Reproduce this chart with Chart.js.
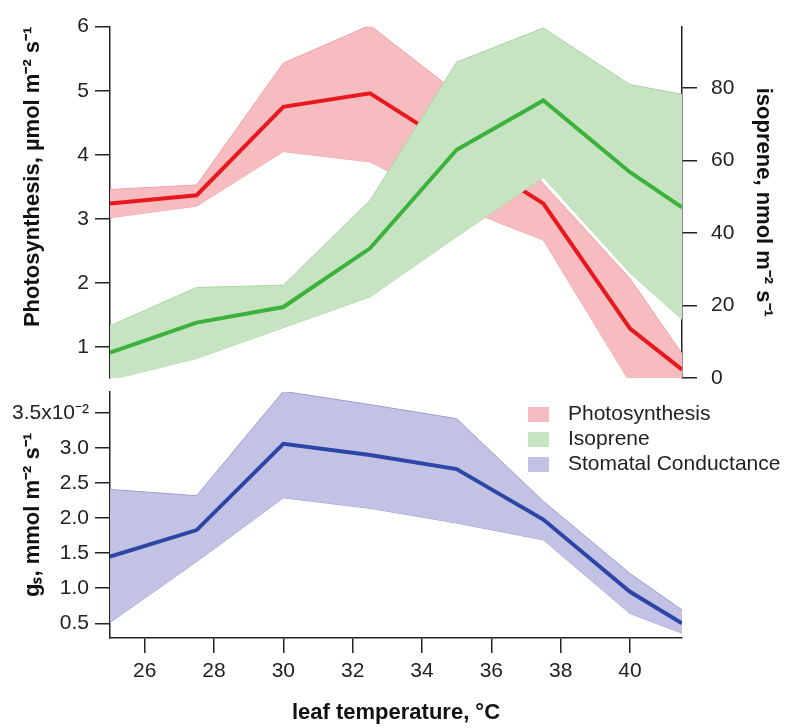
<!DOCTYPE html>
<html>
<head>
<meta charset="utf-8">
<script src="https://cdn.jsdelivr.net/npm/chart.js@4.4.1/dist/chart.umd.min.js"></script>
<style>
  body { margin: 0; background: #fff; }
  #wrap { position: relative; width: 800px; height: 728px; }
  canvas { position: absolute; left: 0; top: 0; }
</style>
</head>
<body>
<div id="wrap">
  <canvas id="top-chart" width="800" height="728"></canvas>
  <canvas id="bottom-chart" width="800" height="728"></canvas>
</div>
<script>
  var temps = [25, 27.5, 30, 32.5, 35, 37.5, 40, 41.5];

  // photosynthesis, umol m-2 s-1
  var photoMean = [3.24, 3.37, 4.75, 4.96, 4.1, 3.24, 1.29, 0.65];
  var photoHigh = [3.46, 3.53, 5.43, 6.02, 4.97, 3.55, 2.07, 0.9];
  var photoLow = [3.02, 3.2, 4.05, 3.89, 3.2, 2.67, 0.45, 0.45];

  // isoprene, nmol m-2 s-1
  var isoMean = [7.0, 15.3, 19.6, 35.8, 63.0, 76.6, 56.8, 47.1];
  var isoHigh = [14.4, 25.0, 25.6, 49, 87.2, 96.6, 81.0, 78.3];
  var isoLow = [-0.5, 5.4, 13.9, 22.4, 39, 55.4, 29, 16.2];

  // stomatal conductance, mmol m-2 s-1
  var gsMean = [0.0145, 0.0183, 0.0306, 0.029, 0.027, 0.0198, 0.0095, 0.005];
  var gsHigh = [0.0241, 0.0232, 0.0381, 0.0362, 0.0342, 0.0224, 0.0121, 0.0069];
  var gsLow = [0.0051, 0.0138, 0.0229, 0.0214, 0.0193, 0.0169, 0.0064, 0.0036];

  var legendNames = ['Photosynthesis', 'Isoprene', 'Stomatal Conductance'];
  var legendColors = ['#f6bcc0', '#c6e4c1', '#c2c2e4'];

  function pts(vals) {
    return temps.map(function (t, i) { return { x: t, y: vals[i] }; });
  }

  Chart.defaults.font.family = '"Liberation Sans", Arial, sans-serif';
  Chart.defaults.font.size = 21;
  Chart.defaults.color = '#222';
  Chart.defaults.animation = false;

  var axisGrid = { drawOnChartArea: false, drawTicks: true, tickLength: 15, color: '#222', lineWidth: 1.5 };
  var axisBorder = { display: true, color: '#222', width: 1.5 };
  var titleFont = { size: 22, weight: 'bold' };

  function band(vals, color, edge, axis, fillTo, order) {
    return {
      data: pts(vals), yAxisID: axis, borderColor: edge, borderWidth: 1,
      backgroundColor: color, pointRadius: 0, fill: fillTo, order: order
    };
  }
  function meanLine(vals, color, axis, order) {
    return {
      data: pts(vals), yAxisID: axis, borderColor: color, borderWidth: 4,
      pointRadius: 0, fill: false, order: order
    };
  }

  var topChart = new Chart(document.getElementById('top-chart').getContext('2d'), {
    type: 'line',
    data: {
      datasets: [
        meanLine(isoMean, '#3cb13c', 'yIso', 0),
        band(isoHigh, '#c6e4c1', '#a9d5a2', 'yIso', 2, 1),
        band(isoLow, '#c6e4c1', '#a9d5a2', 'yIso', false, 1),
        meanLine(photoMean, '#e8191e', 'yPh', 2),
        band(photoHigh, '#f6bcc0', '#f0a2a7', 'yPh', 5, 3),
        band(photoLow, '#f6bcc0', '#f0a2a7', 'yPh', false, 3)
      ]
    },
    options: {
      responsive: false,
      layout: { padding: { top: 26, bottom: 350, left: 0, right: 0 } },
      plugins: { legend: { display: false }, tooltip: { enabled: false } },
      scales: {
        x: { type: 'linear', min: 25, max: 41.5, display: false },
        yPh: {
          position: 'left', min: 0.52, max: 6,
          ticks: { stepSize: 1, includeBounds: false, padding: 6 },
          grid: axisGrid, border: axisBorder,
          title: { display: true, text: 'Photosynthesis, µmol m⁻² s⁻¹', font: titleFont, color: '#111', align: 'end', padding: { top: 20, bottom: 0 } },
          afterFit: function (s) { s.width = 110; }
        },
        yIso: {
          position: 'right', min: 0, max: 97,
          ticks: { stepSize: 20, includeBounds: false, padding: 14 },
          grid: axisGrid, border: axisBorder,
          title: { display: true, text: 'isoprene, nmol m⁻² s⁻¹', font: titleFont, color: '#111', padding: { top: 24, bottom: 0 } },
          afterFit: function (s) { s.width = 118; }
        }
      }
    }
  });

  var legendPlugin = {
    id: 'bandLegend',
    afterDraw: function (chart) {
      var ctx = chart.ctx;
      var x = chart.chartArea.right - 154;
      var y = chart.chartArea.top + 15;
      ctx.save();
      ctx.font = '21px "Liberation Sans", Arial, sans-serif';
      ctx.textBaseline = 'middle';
      for (var i = 0; i < legendNames.length; i++) {
        ctx.fillStyle = legendColors[i];
        ctx.fillRect(x, y + i * 25, 21, 15);
        ctx.fillStyle = '#222';
        ctx.fillText(legendNames[i], x + 40, y + i * 25 + 7);
      }
      ctx.restore();
    }
  };

  var bottomChart = new Chart(document.getElementById('bottom-chart').getContext('2d'), {
    type: 'line',
    data: {
      datasets: [
        meanLine(gsMean, '#2d46a6', 'yGs', 0),
        band(gsHigh, '#c2c2e4', '#9d9dd3', 'yGs', 2, 1),
        band(gsLow, '#c2c2e4', '#9d9dd3', 'yGs', false, 1)
      ]
    },
    options: {
      responsive: false,
      layout: { padding: { top: 392, bottom: 0, left: 0, right: 118 } },
      plugins: { legend: { display: false }, tooltip: { enabled: false } },
      scales: {
        x: {
          type: 'linear', min: 25, max: 41.5,
          ticks: { stepSize: 2, includeBounds: false, padding: 6 },
          grid: axisGrid, border: axisBorder,
          title: { display: true, text: 'leaf temperature, °C', font: titleFont, color: '#111', padding: { top: 0, bottom: 2 } },
          afterFit: function (s) { s.height = 90; }
        },
        yGs: {
          position: 'left', min: 0.0029, max: 0.038,
          ticks: {
            stepSize: 0.005, includeBounds: false, padding: 6,
            callback: function (v) {
              var s = (v * 100).toFixed(1);
              return Math.abs(v - 0.035) < 1e-6 ? s + 'x10⁻²' : s;
            }
          },
          grid: axisGrid, border: axisBorder,
          title: { display: true, text: 'gₛ, mmol m⁻² s⁻¹', font: titleFont, color: '#111', padding: { top: 20, bottom: 0 } },
          afterFit: function (s) { s.width = 110; }
        }
      }
    },
    plugins: [legendPlugin]
  });
</script>
</body>
</html>
